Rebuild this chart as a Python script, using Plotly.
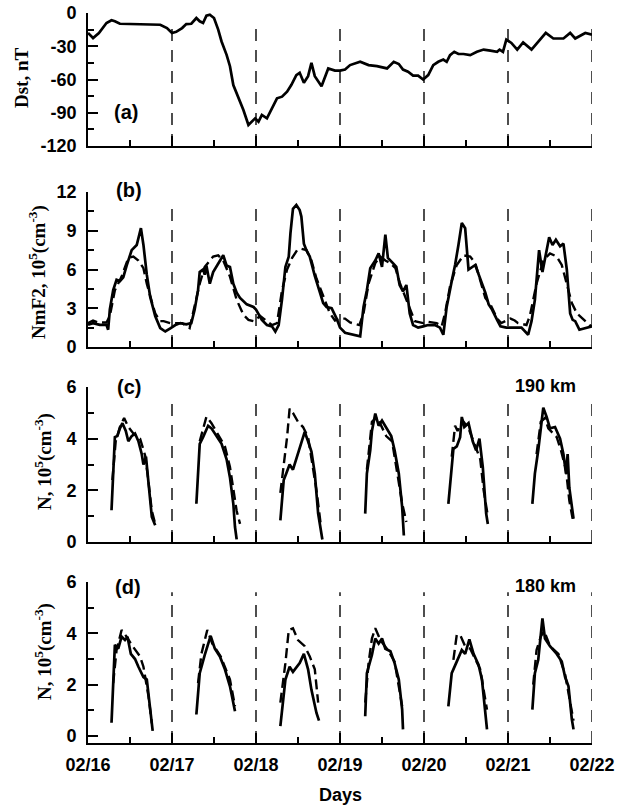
import plotly.graph_objects as go

# ---------------- data ----------------
# time axis: days since 02/16 00:00 UT
day_ticks = [0, 1, 2, 3, 4, 5, 6]
day_labels = ["02/16", "02/17", "02/18", "02/19", "02/20", "02/21", "02/22"]
half_days = [0.5, 1.5, 2.5, 3.5, 4.5, 5.5]

# (a) Dst index, nT
dst_t = [0.00, 0.06, 0.13, 0.22, 0.28, 0.32, 0.38, 0.54, 0.62, 0.70, 0.78, 0.86, 0.94,
         1.00, 1.05, 1.12, 1.17, 1.23, 1.29, 1.33, 1.37, 1.41, 1.45, 1.50, 1.55, 1.59,
         1.65, 1.69, 1.73, 1.79, 1.85, 1.91, 1.95, 1.99,
         2.03, 2.07, 2.13, 2.19, 2.25, 2.31, 2.37, 2.42, 2.48, 2.52, 2.57, 2.62, 2.66,
         2.70, 2.74, 2.78, 2.86, 2.94,
         3.00, 3.06, 3.12, 3.24, 3.34, 3.44, 3.56, 3.64, 3.70, 3.75, 3.81, 3.87, 3.93, 3.99,
         4.05, 4.11, 4.17, 4.23, 4.27, 4.31, 4.36, 4.41, 4.47, 4.55, 4.63, 4.71, 4.79,
         4.87, 4.90, 4.94, 4.98,
         5.04, 5.11, 5.18, 5.28, 5.38, 5.45, 5.54, 5.66, 5.74, 5.80, 5.92, 6.00]
dst_v = [-18, -22.6, -18, -9, -6.6, -7.5, -9.7, -10, -9.5, -10, -10, -10.6, -13.6,
         -18, -17, -13.6, -10, -9.7, -4.5, -7.5, -9, -2.4, -1.5, -4.5, -15, -25.7,
         -37.8, -48, -65, -75.5, -87.6, -101, -98, -95,
         -98, -92, -95, -86, -77, -75.5, -71, -65, -56, -54, -63, -57, -45,
         -57, -62, -66, -50, -52,
         -52, -51, -47, -44, -47, -48, -50, -44, -46, -51, -53, -56.5, -56.5, -60,
         -56, -47, -44, -42, -44, -38, -35, -37, -37, -38, -35, -33, -34,
         -35, -33, -35, -24,
         -27, -33, -26.6, -33, -24, -18, -23, -23, -18, -23, -18, -19.6]
dst_ticks = [-120, -90, -60, -30, 0]
dst_ticklabels = ["-120", "-90", "-60", "-30", "0"]

# (b) NmF2, 10^5 cm^-3 : observed (solid) and model (dashed)
nmf2_ticks = [0, 3, 6, 9, 12]
nmf2_ticklabels = ["0", "3", "6", "9", "12"]
nmf2_obs_t = [0.00, 0.06, 0.14, 0.22, 0.24, 0.26, 0.30, 0.34, 0.38, 0.42, 0.46, 0.52, 0.58,
              0.63, 0.66, 0.70, 0.74, 0.80, 0.86, 0.92, 0.98,
              1.04, 1.10, 1.17, 1.23, 1.27, 1.31, 1.33, 1.37, 1.39, 1.41, 1.43, 1.45, 1.49,
              1.55, 1.61, 1.65, 1.69, 1.73, 1.77, 1.81, 1.89, 1.97,
              2.00, 2.07, 2.13, 2.19, 2.23, 2.27, 2.31, 2.35, 2.39, 2.41, 2.44, 2.48, 2.52,
              2.54, 2.57, 2.60, 2.64, 2.70, 2.74, 2.80, 2.84, 2.90, 2.96,
              3.00, 3.06, 3.14, 3.24, 3.28, 3.32, 3.36, 3.42, 3.46, 3.50, 3.54, 3.57, 3.63,
              3.67, 3.71, 3.75, 3.79, 3.83, 3.87, 3.93, 3.99,
              4.05, 4.13, 4.19, 4.23, 4.27, 4.33, 4.37, 4.41, 4.45, 4.49, 4.53, 4.61, 4.67,
              4.73, 4.77, 4.81, 4.87, 4.91, 4.98,
              5.06, 5.16, 5.24, 5.28, 5.32, 5.37, 5.41, 5.45, 5.49, 5.53, 5.57, 5.62, 5.66,
              5.70, 5.74, 5.77, 5.80, 5.85, 5.92, 6.00]
nmf2_obs_v = [1.72, 1.85, 1.72, 1.72, 1.34, 2.9, 4.4, 5.2, 5.1, 5.4, 6.3, 7.5, 7.9,
              9.2, 7.9, 5.6, 3.9, 2.4, 1.47, 1.2, 1.45,
              1.7, 1.85, 1.75, 1.85, 2.9, 4.4, 5.8, 6.0, 5.6, 6.3, 5.7, 4.9, 5.8,
              6.5, 7.1, 6.3, 6.2, 4.9, 4.2, 3.8, 3.3, 3.1,
              2.9, 2.1, 1.7, 1.6, 1.2, 1.7, 3.7, 6.2, 7.0, 8.8, 10.7, 11.0, 10.6,
              10.1, 8.0, 7.5, 7.0, 5.5, 4.6, 3.4, 3.1, 3.0, 2.2,
              1.5, 1.1, 0.95, 0.82, 3.1, 4.4, 6.1, 6.7, 7.25, 6.2, 8.7, 6.9, 6.5,
              6.2, 4.8, 4.3, 4.8, 2.6, 1.7, 1.5, 1.6,
              1.7, 1.7, 1.5, 0.95, 3.1, 5.1, 6.35, 7.9, 9.6, 9.2, 6.0, 6.35, 5.3,
              4.2, 3.3, 2.9, 2.1, 1.6, 1.5,
              1.5, 1.5, 0.95, 2.0, 3.65, 7.5, 5.8, 7.25, 8.5, 7.9, 8.3, 7.8, 8.0,
              6.0, 2.6, 2.1, 2.0, 1.34, 1.45, 1.6]

nmf2_mod_t = [0.00, 0.06, 0.12, 0.22, 0.26, 0.32, 0.40, 0.48, 0.54, 0.60, 0.66, 0.70, 0.76,
              0.80, 0.86, 0.90, 0.98,
              1.04, 1.12, 1.21, 1.29, 1.33, 1.39, 1.49, 1.55, 1.61, 1.69, 1.77, 1.85, 1.91, 1.97,
              2.05, 2.11, 2.19, 2.25, 2.31, 2.37, 2.43, 2.49, 2.54, 2.60, 2.66, 2.72, 2.80,
              2.88, 2.94,
              3.00, 3.06, 3.12, 3.23, 3.28, 3.34, 3.42, 3.48, 3.54, 3.60, 3.66, 3.71, 3.78,
              3.83, 3.89, 3.99,
              4.05, 4.15, 4.21, 4.25, 4.31, 4.39, 4.47, 4.55, 4.61, 4.67, 4.73, 4.79, 4.87, 4.92,
              5.03, 5.08, 5.12, 5.22, 5.26, 5.34, 5.42, 5.50, 5.58, 5.64, 5.70, 5.76, 5.82,
              5.90, 5.97, 6.00]
nmf2_mod_v = [1.85, 2.05, 1.9, 1.9, 2.4, 4.4, 5.45, 6.9, 7.0, 6.7, 6.1, 4.9, 3.5,
              2.6, 2.0, 2.0, 1.85,
              1.85, 1.85, 1.47, 3.9, 4.9, 6.2, 7.0, 7.1, 6.7, 5.45, 3.65, 2.5, 2.1, 2.0,
              2.4, 2.1, 1.7, 1.85, 4.4, 6.0, 6.9, 7.5, 7.6, 7.5, 6.7, 5.3, 3.9,
              2.6, 2.05,
              2.2, 2.2, 1.9, 1.7, 2.6, 4.9, 6.5, 7.0, 6.7, 6.5, 6.1, 5.0, 3.9,
              3.0, 2.0, 1.85,
              1.95, 1.85, 1.6, 2.6, 4.7, 6.35, 7.1, 7.0, 6.5, 5.2, 3.8, 3.3, 2.2, 1.85,
              2.2, 2.05, 1.85, 1.7, 2.4, 4.9, 6.7, 7.25, 7.0, 6.35, 4.9, 3.4, 2.6,
              2.1, 1.7, 1.6]

# (c), (d) tick marks for the N axes
n_ticks = [0, 2, 4, 6]
n_ticklabels = ["0", "2", "4", "6"]

# (c) N at 190 km, 10^5 cm^-3, one daytime segment per day
n190_obs_t = [[0.28, 0.32, 0.35, 0.38, 0.41, 0.45, 0.48, 0.52, 0.56, 0.60, 0.64, 0.66, 0.69, 0.72, 0.76, 0.80],
              [1.29, 1.33, 1.37, 1.40, 1.43, 1.47, 1.53, 1.59, 1.65, 1.69, 1.73, 1.75, 1.77],
              [2.29, 2.33, 2.36, 2.40, 2.44, 2.48, 2.54, 2.58, 2.62, 2.66, 2.70, 2.74, 2.79],
              [3.30, 3.32, 3.36, 3.38, 3.42, 3.46, 3.50, 3.56, 3.61, 3.65, 3.70, 3.74, 3.76],
              [4.29, 4.31, 4.35, 4.39, 4.43, 4.45, 4.48, 4.53, 4.58, 4.62, 4.66, 4.70, 4.72, 4.74, 4.76],
              [5.29, 5.32, 5.36, 5.39, 5.42, 5.46, 5.50, 5.56, 5.62, 5.66, 5.69, 5.71, 5.73, 5.78]]
n190_obs_v = [[1.23, 4.06, 4.1, 4.4, 4.6, 4.3, 3.9, 4.1, 4.2, 3.9, 3.4, 3.0, 3.3, 2.4, 0.97, 0.65],
              [1.48, 3.8, 4.06, 4.3, 4.5, 4.4, 4.1, 3.8, 3.2, 2.5, 1.48, 0.58, 0.1],
              [0.84, 2.4, 2.65, 3.0, 2.8, 3.2, 3.8, 4.26, 3.9, 3.5, 2.65, 1.1, 0.1],
              [1.1, 2.65, 3.55, 4.3, 4.97, 4.5, 4.7, 4.4, 4.1, 3.55, 2.65, 1.35, 0.25],
              [1.48, 2.1, 3.6, 3.7, 4.06, 4.84, 4.45, 4.6, 3.9, 3.55, 4.0, 2.9, 2.1, 1.1, 0.7],
              [1.48, 2.65, 3.55, 4.45, 5.2, 4.84, 4.4, 4.45, 4.0, 3.4, 2.65, 3.4, 2.1, 0.9]]
n190_mod_t = [[0.29, 0.33, 0.38, 0.43, 0.48, 0.54, 0.62, 0.68, 0.71, 0.76, 0.80],
              [1.33, 1.37, 1.41, 1.47, 1.57, 1.63, 1.69, 1.73, 1.77, 1.81],
              [2.29, 2.33, 2.37, 2.40, 2.44, 2.50, 2.56, 2.62, 2.68, 2.72, 2.77],
              [3.32, 3.38, 3.44, 3.55, 3.62, 3.68, 3.74, 3.79],
              [4.33, 4.37, 4.40, 4.46, 4.53, 4.61, 4.67, 4.71, 4.76],
              [5.34, 5.39, 5.44, 5.48, 5.58, 5.63, 5.69, 5.73, 5.77]]
n190_mod_v = [[2.4, 3.9, 4.45, 4.8, 4.45, 4.2, 4.0, 3.35, 2.6, 1.2, 0.7],
              [3.9, 4.4, 4.85, 4.6, 4.06, 3.7, 2.9, 2.1, 1.2, 0.7],
              [1.9, 2.9, 4.06, 5.16, 5.0, 4.65, 4.45, 4.06, 2.8, 2.0, 0.7],
              [2.8, 4.65, 4.84, 4.1, 3.9, 2.65, 1.5, 0.77],
              [3.3, 4.5, 4.3, 4.7, 4.4, 3.7, 3.2, 2.0, 1.0],
              [3.4, 4.65, 4.8, 4.4, 4.06, 3.55, 2.8, 1.6, 0.9]]

# (d) N at 180 km, 10^5 cm^-3
n180_obs_t = [[0.28, 0.32, 0.36, 0.40, 0.44, 0.47, 0.51, 0.56, 0.60, 0.66, 0.70, 0.74, 0.77],
              [1.29, 1.33, 1.39, 1.46, 1.51, 1.57, 1.63, 1.69, 1.75],
              [2.29, 2.35, 2.40, 2.44, 2.52, 2.57, 2.62, 2.66, 2.72, 2.75],
              [3.30, 3.32, 3.38, 3.42, 3.46, 3.50, 3.54, 3.60, 3.65, 3.70, 3.74, 3.75],
              [4.29, 4.33, 4.39, 4.45, 4.49, 4.54, 4.59, 4.65, 4.69, 4.73, 4.75],
              [5.29, 5.32, 5.36, 5.38, 5.41, 5.44, 5.50, 5.58, 5.64, 5.68, 5.72, 5.76, 5.78]]
n180_obs_v = [[0.52, 3.55, 3.4, 3.87, 3.74, 3.87, 3.2, 3.0, 2.7, 2.3, 2.2, 0.9, 0.2],
              [0.84, 2.45, 3.16, 3.9, 3.4, 3.1, 2.6, 1.94, 0.97],
              [0.39, 2.2, 2.7, 2.5, 2.84, 3.2, 2.6, 1.8, 0.9, 0.6],
              [0.77, 2.45, 3.16, 3.8, 3.6, 3.8, 3.4, 3.3, 2.84, 2.2, 1.03, 0.26],
              [1.16, 2.45, 2.9, 3.35, 3.2, 3.77, 3.2, 2.77, 2.2, 1.03, 0.26],
              [1.03, 2.45, 2.97, 3.6, 4.58, 3.8, 3.5, 3.2, 2.9, 2.3, 1.94, 0.65, 0.26]]
n180_mod_t = [[0.30, 0.34, 0.40, 0.46, 0.52, 0.62, 0.66, 0.72, 0.76],
              [1.31, 1.35, 1.42, 1.48, 1.58, 1.69, 1.75],
              [2.29, 2.35, 2.39, 2.44, 2.50, 2.58, 2.64, 2.70, 2.74],
              [3.30, 3.34, 3.38, 3.42, 3.48, 3.57, 3.65, 3.70, 3.74],
              [4.35, 4.39, 4.43, 4.49, 4.55, 4.61, 4.67, 4.71, 4.75],
              [5.30, 5.34, 5.39, 5.43, 5.50, 5.60, 5.68, 5.74, 5.78]]
n180_mod_v = [[2.06, 3.35, 4.13, 3.87, 3.55, 3.1, 2.7, 1.55, 0.5],
              [2.06, 3.2, 4.13, 3.6, 3.1, 2.2, 1.16],
              [1.3, 2.84, 4.13, 4.2, 3.74, 3.5, 3.1, 2.6, 1.3],
              [1.3, 2.84, 3.8, 4.2, 3.74, 3.35, 2.9, 1.94, 1.16],
              [2.97, 3.94, 3.94, 3.5, 3.4, 2.97, 2.6, 1.8, 1.03],
              [2.0, 3.35, 3.87, 4.1, 3.5, 3.2, 2.4, 1.4, 0.6]]


# ---------------- figure ----------------
W, H = 630, 807
X_LEFT, X_RIGHT = 88, 592


def px(x):
    return x / W


def py(y):
    return 1 - y / H


def join_segments(seg_list):
    out = []
    for k, seg in enumerate(seg_list):
        if k:
            out.append(None)
        out.extend(seg)
    return out


def bold(labels):
    return [f"<b>{s}</b>" for s in labels]


panels = [
    dict(top=13, bottom=146, rng=[-120, 0], ticks=dst_ticks, labels=dst_ticklabels, minor=15, dash_top=-9),
    dict(top=192, bottom=347, rng=[0, 12], ticks=nmf2_ticks, labels=nmf2_ticklabels, minor=1.5, dash_top=11.2),
    dict(top=387, bottom=542, rng=[0, 6], ticks=n_ticks, labels=n_ticklabels, minor=1, dash_top=5.6),
    dict(top=582, bottom=743, rng=[-0.27, 6], ticks=n_ticks, labels=n_ticklabels, minor=1, dash_top=5.6),
]

SOLID = dict(color="black", width=2.7)
DASHED = dict(color="black", width=2.4, dash="10px,5px")

fig = go.Figure()


def add_line(i, x, y, style):
    fig.add_trace(go.Scatter(x=x, y=y, mode="lines", line=style,
                             xaxis="x" if i == 1 else f"x{i}",
                             yaxis="y" if i == 1 else f"y{i}",
                             showlegend=False, hoverinfo="skip",
                             connectgaps=False))


add_line(1, dst_t, dst_v, SOLID)
add_line(2, nmf2_mod_t, nmf2_mod_v, DASHED)
add_line(2, nmf2_obs_t, nmf2_obs_v, SOLID)
add_line(3, join_segments(n190_mod_t), join_segments(n190_mod_v), DASHED)
add_line(3, join_segments(n190_obs_t), join_segments(n190_obs_v), SOLID)
add_line(4, join_segments(n180_mod_t), join_segments(n180_mod_v), DASHED)
add_line(4, join_segments(n180_obs_t), join_segments(n180_obs_v), SOLID)

tick_font = dict(family="Liberation Sans, Arial, sans-serif", size=18, color="black")
layout = dict(width=W, height=H, margin=dict(l=0, r=0, t=0, b=0, autoexpand=False),
              paper_bgcolor="white", plot_bgcolor="white", showlegend=False)

shapes = []
for i, p in enumerate(panels, start=1):
    sfx = "" if i == 1 else str(i)
    xa = dict(domain=[px(X_LEFT), px(X_RIGHT)], range=[0, 6], anchor=f"y{sfx}",
              showline=True, linecolor="black", linewidth=1.6,
              ticks="inside", tickmode="array", tickvals=day_ticks, ticktext=bold(day_labels),
              ticklen=10, tickwidth=1.5, tickcolor="black",
              minor=dict(tickvals=half_days, ticks="inside", ticklen=6, tickwidth=1.5, tickcolor="black"),
              showticklabels=(i == 4), tickfont=tick_font, ticklabelstandoff=5,
              automargin=False, showgrid=False, zeroline=False, fixedrange=True)
    ya = dict(domain=[py(p["bottom"]), py(p["top"])], range=p["rng"], anchor=f"x{sfx}",
              showline=True, linecolor="black", linewidth=1.6,
              ticks="inside", tickmode="array", tickvals=p["ticks"], ticktext=bold(p["labels"]),
              ticklen=10, tickwidth=1.5, tickcolor="black",
              minor=dict(dtick=p["minor"], tick0=0, ticks="inside", ticklen=6, tickwidth=1.5, tickcolor="black"),
              tickfont=tick_font, ticklabelstandoff=6,
              automargin=False, showgrid=False, zeroline=False, fixedrange=True)
    layout[f"xaxis{sfx}"] = xa
    layout[f"yaxis{sfx}"] = ya
    for d in day_ticks[1:]:
        shapes.append(dict(type="line", xref=f"x{sfx}", yref=f"y{sfx}",
                           x0=d, x1=d, y0=p["rng"][0], y1=p["dash_top"],
                           line=dict(color="#222", width=1.6, dash="12px,9px"),
                           layer="below"))
layout["shapes"] = shapes

serif = dict(family="Liberation Serif, Times New Roman, serif", size=19, color="black")
sans_lbl = dict(family="Liberation Sans, Arial, sans-serif", size=20, color="black")
sans_km = dict(family="Liberation Sans, Arial, sans-serif", size=18, color="black")

annotations = []


def note(text, x, y, font, angle=0):
    annotations.append(dict(text=text, x=px(x), y=py(y), xref="paper", yref="paper",
                            xanchor="center", yanchor="middle", showarrow=False,
                            textangle=angle, font=font))


note("<b>Dst, nT</b>", 22, 78, serif, -90)
note("<b>NmF2, 10<sup>5</sup>(cm<sup>-3</sup>)</b>", 37, 272, serif, -90)
note("<b>N, 10<sup>5</sup>(cm<sup>-3</sup>)</b>", 44, 462, serif, -90)
note("<b>N, 10<sup>5</sup>(cm<sup>-3</sup>)</b>", 43, 651, serif, -90)
note("<b>(a)</b>", 126, 112, sans_lbl)
note("<b>(b)</b>", 129, 190, sans_lbl)
note("<b>(c)</b>", 129, 387, sans_lbl)
note("<b>(d)</b>", 128, 587, sans_lbl)
note("<b>190 km</b>", 545, 386, sans_km)
note("<b>180 km</b>", 545, 586, sans_km)
note("<b>Days</b>", 340, 795, dict(family="Liberation Sans, Arial, sans-serif", size=18, color="black"))
layout["annotations"] = annotations

fig.update_layout(**layout)
fig.write_html("out.html")
